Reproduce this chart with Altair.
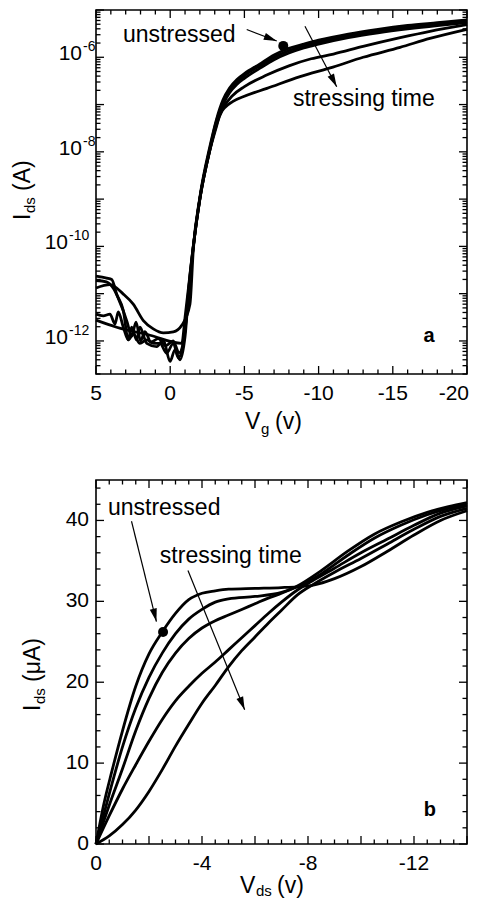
import altair as alt
import pandas as pd

FONT = "Liberation Sans"
INK = "black"

# ---------------- panel a : transfer curves, Ids (A) vs Vg (V) ----------------
a_vg_1 = [5, 4.06, 3.16, 2.49, 1.81, 1.14, 0.46, -0.21, -0.78, -1.33, -1.56, -2.01, -2.68, -3.13, -3.56,
          -4.0, -4.5, -5.0, -6.0, -7.0, -8.0, -9.0, -10.0, -12.0, -14.0, -16.0, -18.0, -20.0]
a_id_1 = [1.32e-11, 1.55e-11, 9.8e-12, 6.0e-12, 2.7e-12, 1.8e-12, 1.48e-12, 1.55e-12, 2.14e-12, 6.0e-12,
          8.9e-11, 1.15e-9, 1.32e-8, 5.0e-8, 1.26e-7, 2.24e-7, 3.4e-7, 4.5e-7, 7.1e-7, 1.12e-6, 1.55e-6,
          1.9e-6, 2.3e-6, 3.1e-6, 3.9e-6, 4.7e-6, 5.4e-6, 6.2e-6]

a_vg_2 = [5, 3.61, 1.36, -0.78, -1.0, -1.33, -1.56, -2.01, -2.68, -3.13, -3.56, -4.0, -4.5, -5.0, -6.0,
          -7.0, -8.0, -9.0, -10.0, -12.0, -14.0, -16.0, -18.0, -20.0]
a_id_2 = [2.75e-12, 1.95e-12, 1.32e-12, 8.9e-13, 3.16e-12, 2.5e-11, 1.05e-10, 1.1e-9, 1.2e-8, 4.6e-8,
          1.12e-7, 2.0e-7, 3.0e-7, 4.1e-7, 6.5e-7, 1.0e-6, 1.38e-6, 1.74e-6, 2.1e-6, 2.8e-6, 3.55e-6,
          4.3e-6, 5.0e-6, 5.75e-6]

a_vg_3 = [5, 4.28, 3.94, 3.61, 3.16, 2.82, 2.60, 2.26, 2.04, 1.58, 0.91, 0.46, 0.01, -0.32, -0.66, -1.0,
          -1.33, -1.56, -2.01, -2.68, -3.13, -3.56, -4.0, -4.5, -5.0, -6.0, -7.0, -8.0, -9.0, -10.0,
          -12.0, -14.0, -16.0, -18.0, -20.0]
a_id_3 = [2.34e-11, 2.14e-11, 2.0e-11, 9.8e-12, 4.4e-12, 1.05e-12, 1.95e-12, 1.05e-12, 1.95e-12, 8.9e-13,
          7.6e-13, 1.05e-12, 3.7e-13, 6.5e-13, 4.0e-13, 1.23e-12, 2.4e-11, 1.0e-10, 1.05e-9, 1.12e-8,
          4.2e-8, 1.0e-7, 1.78e-7, 2.7e-7, 3.6e-7, 5.75e-7, 8.9e-7, 1.23e-6, 1.58e-6, 1.9e-6, 2.6e-6,
          3.3e-6, 4.0e-6, 4.7e-6, 5.4e-6]

a_vg_4 = [5, 4.51, 4.06, 3.72, 3.50, 3.16, 2.82, 2.49, 2.04, 1.58, 1.14, 0.69, 0.24, -0.21, -0.55, -0.88,
          -1.2, -1.56, -2.01, -2.68, -3.13, -3.56, -4.23, -5.0, -6.5, -8.0, -9.5, -11.0, -13.0, -15.5,
          -17.5, -20.0]
a_id_4 = [3.7e-12, 3.4e-12, 3.7e-12, 2.3e-12, 4.1e-12, 1.95e-12, 1.05e-12, 1.41e-12, 8.9e-13, 1.05e-12,
          8.9e-13, 8.9e-13, 5.5e-13, 8.9e-13, 4.4e-13, 8.9e-13, 6.3e-12, 1.0e-10, 1.07e-9, 1.12e-8,
          3.8e-8, 8.3e-8, 1.58e-7, 2.4e-7, 4.2e-7, 6.6e-7, 9.3e-7, 1.17e-6, 1.7e-6, 2.6e-6, 3.55e-6,
          4.9e-6]

a_vg_5 = [5, 4.3, 3.8, 3.3, 2.9, 2.6, 2.3, 2.0, 1.7, 1.3, 0.8, 0.3, -0.2, -0.6, -0.9, -1.25, -1.56,
          -2.01, -2.68, -3.13, -3.36, -4.23, -5.0, -6.52, -8.75, -10.97, -13.0, -15.49, -17.5, -20.0]
a_id_5 = [1.9e-11, 1.78e-11, 1.26e-11, 5.6e-12, 2.5e-12, 1.26e-12, 2.5e-12, 1.0e-12, 1.58e-12, 9.5e-13,
          1.12e-12, 7.9e-13, 1.0e-12, 5.6e-13, 1.0e-12, 1.26e-11, 1.0e-10, 1.05e-9, 1.1e-8, 3.55e-8,
          6.3e-8, 1.17e-7, 1.5e-7, 2.2e-7, 3.9e-7, 6.2e-7, 1.0e-6, 1.62e-6, 2.5e-6, 3.9e-6]

a_curves = [(a_vg_1, a_id_1), (a_vg_2, a_id_2), (a_vg_3, a_id_3), (a_vg_4, a_id_4), (a_vg_5, a_id_5)]

a_x_domain = [5, -20]
a_y_domain = [2e-13, 1e-5]
a_x_major = [5, 0, -5, -10, -15, -20]
a_x_minor = [v for v in range(4, -20, -1) if v % 5 != 0]
a_y_major = [1e-12, 1e-11, 1e-10, 1e-9, 1e-8, 1e-7, 1e-6, 1e-5]
a_y_minor = [k * 10.0 ** n for n in range(-13, -5) for k in range(2, 10)]
a_x_label_vals = [5, 0, -5, -10, -15]
a_x_labels = ["5", "0", "-5", "-10", "-15"]
a_x_last_val = -20
a_x_last_label = "-20"
a_y_label_vals_1 = [1e-6, 1e-8]
a_y_label_exp_1 = ["-6", "-8"]
a_y_label_vals_2 = [1e-10, 1e-12]
a_y_label_exp_2 = ["-10", "-12"]

# annotations (data coordinates)
a_unstressed_xy = (3.18, 2.07e-6)
a_stress_xy = (-8.27, 9.3e-8)
a_arrow1 = (-5.155, 3.87e-6, -7.18, 2.21e-6)
a_arrow2 = (-9.08, 4.53e-6, -11.22, 2.39e-7)
a_dot = (-7.62, 1.74e-6)
a_tag = (-17.44, 9.7e-13)

# ---------------- panel b : output curves, Ids (uA) vs Vds (V) ----------------
b_vd_1 = [0, -0.3, -0.6, -1.0, -1.5, -2.0, -2.5, -3.0, -3.5, -4.0, -4.5, -5.0, -6.0, -7.0, -7.6, -8.2,
          -9.0, -10.0, -11.0, -12.0, -13.0, -14.0]
b_id_1 = [0, 5.0, 9.0, 14.0, 19.5, 23.5, 26.2, 28.5, 30.2, 31.0, 31.3, 31.5, 31.6, 31.7, 31.8, 32.0,
          32.8, 34.3, 36.2, 38.2, 40.0, 41.2]
b_vd_2 = [0, -0.5, -1.0, -1.5, -2.0, -2.5, -3.0, -3.5, -4.0, -4.5, -5.0, -6.0, -7.0, -7.6, -8.5, -9.5,
          -10.5, -11.5, -12.5, -13.3, -14.0]
b_id_2 = [0, 6.2, 12.0, 16.8, 20.6, 23.6, 26.0, 27.8, 29.0, 29.9, 30.3, 30.6, 31.1, 31.8, 33.4, 35.7,
          37.8, 39.4, 40.7, 41.5, 42.0]
b_vd_3 = [0, -0.5, -1.0, -1.5, -2.0, -2.5, -3.0, -3.5, -4.0, -4.5, -5.0, -5.5, -6.0, -6.5, -7.0, -7.6,
          -8.5, -9.5, -10.5, -11.5, -12.5, -13.3, -14.0]
b_id_3 = [0, 4.8, 9.3, 14.0, 18.0, 21.2, 23.6, 25.4, 26.7, 27.6, 28.3, 29.0, 29.7, 30.4, 31.0, 31.9,
          33.8, 36.2, 38.3, 39.8, 41.0, 41.7, 42.2]
b_vd_4 = [0, -0.5, -1.0, -1.5, -2.0, -2.5, -3.0, -3.5, -4.0, -4.5, -5.0, -5.5, -6.0, -6.5, -7.0, -7.6,
          -8.2, -9.0, -10.0, -11.0, -12.0, -13.0, -14.0]
b_id_4 = [0, 3.5, 6.8, 9.8, 12.7, 15.4, 17.7, 19.5, 21.1, 22.5, 24.0, 25.5, 27.0, 28.5, 29.9, 31.4,
          32.6, 34.1, 36.0, 37.7, 39.4, 40.9, 41.8]
b_vd_5 = [0, -0.5, -1.0, -1.5, -2.0, -2.5, -3.0, -3.5, -4.0, -4.5, -5.0, -5.5, -6.0, -6.5, -7.0, -7.6,
          -8.2, -9.0, -10.0, -11.0, -12.0, -13.0, -14.0]
b_id_5 = [0, 1.0, 2.4, 4.2, 6.5, 9.2, 12.1, 14.8, 17.4, 19.6, 21.9, 23.9, 25.6, 27.3, 28.9, 30.8,
          32.1, 33.6, 35.3, 37.1, 38.9, 40.5, 41.5]

b_curves = [(b_vd_1, b_id_1), (b_vd_2, b_id_2), (b_vd_3, b_id_3), (b_vd_4, b_id_4), (b_vd_5, b_id_5)]

b_x_domain = [0, -14]
b_y_domain = [0, 45]
b_x_major = [0, -2, -4, -6, -8, -10, -12, -14]
b_x_minor = [-0.5 * k for k in range(1, 28) if k % 4 != 0]
b_y_major = [0, 10, 20, 30, 40]
b_y_minor = [v for v in range(2, 45, 2) if v % 10 != 0]
b_x_label_vals = [0, -4, -8, -12]
b_x_labels = ["0", "-4", "-8", "-12"]
b_y_label_vals = [0, 10, 20, 30, 40]
b_y_labels = ["0", "10", "20", "30", "40"]

b_unstressed_xy = (-0.45, 40.7)
b_stress_xy = (-2.41, 34.8)
b_arrow1 = (-1.34, 39.9, -2.28, 27.5)
b_arrow2 = (-3.47, 33.8, -5.61, 16.6)
b_dot = (-2.53, 26.2)
b_tag = (-12.6, 3.46)

# ---------------- styling ----------------
W, H = 371, 364
GAP = 106
TICK_FS = 21
TITLE_FS = 23
SUB_FS = 15
ANN_FS = 23
MAJ, MIN = 8, 4.5
ARROW_PATH = "M0,0L0.55,2L-0.55,2Z"
PAD_L, PAD_T = 88, 2
SVG_W, SVG_H = 462, 890


def curves_df(curves):
    rows = []
    for k, (xs, ys) in enumerate(curves):
        for j, (xv, yv) in enumerate(zip(xs, ys)):
            rows.append({"curve": k, "i": j, "x": xv, "y": yv})
    return pd.DataFrame(rows)


def txt(t, x, y, size, angle=0, align="left", baseline="alphabetic", weight="normal"):
    return alt.Chart(pd.DataFrame({"t": [t]})).mark_text(
        font=FONT, fontSize=size, angle=angle, align=align, baseline=baseline,
        fontWeight=weight, color=INK
    ).encode(x=alt.value(x), y=alt.value(y), text="t:N")


def panel(curves, xs, ys, x_major, x_minor, y_major, y_minor, ann, arrow_angles):
    X = lambda f: alt.X(f"{f}:Q", scale=xs, axis=None)
    Y = lambda f: alt.Y(f"{f}:Q", scale=ys, axis=None)
    X2 = lambda f: alt.X2(f"{f}:Q")
    Y2 = lambda f: alt.Y2(f"{f}:Q")
    layers = []
    layers.append(alt.Chart(curves_df(curves)).mark_line(
        color=INK, strokeWidth=2.8, interpolate="monotone", strokeJoin="round"
    ).encode(x=X("x"), y=Y("y"), detail="curve:N", order="i:Q"))
    # inward ticks on all four sides
    for vals, ln in ((x_major, MAJ), (x_minor, MIN)):
        df = pd.DataFrame({"v": vals})
        for yc in (H - ln / 2, ln / 2):
            layers.append(alt.Chart(df).mark_tick(
                orient="vertical", size=ln, thickness=1.3, color=INK, opacity=1
            ).encode(x=X("v"), y=alt.value(yc)))
    for vals, ln in ((y_major, MAJ), (y_minor, MIN)):
        df = pd.DataFrame({"v": vals})
        for xc in (ln / 2, W - ln / 2):
            layers.append(alt.Chart(df).mark_tick(
                orient="horizontal", size=ln, thickness=1.3, color=INK, opacity=1
            ).encode(y=Y("v"), x=alt.value(xc)))
    # annotations
    (ux, uy), (sx, sy), arrows, (dx_, dy_) = ann
    ann_df = pd.DataFrame({"x": [ux, sx], "y": [uy, sy], "t": ["unstressed", "stressing time"]})
    layers.append(alt.Chart(ann_df).mark_text(
        font=FONT, fontSize=ANN_FS, align="left", baseline="alphabetic", color=INK
    ).encode(x=X("x"), y=Y("y"), text="t:N"))
    arr_df = pd.DataFrame({"x": [a[0] for a in arrows], "y": [a[1] for a in arrows],
                           "x2": [a[2] for a in arrows], "y2": [a[3] for a in arrows]})
    layers.append(alt.Chart(arr_df).mark_rule(color=INK, strokeWidth=1.2).encode(
        x=X("x"), y=Y("y"), x2=X2("x2"), y2=Y2("y2")))
    for a, ang in zip(arrows, arrow_angles):
        layers.append(alt.Chart(pd.DataFrame({"x": [a[2]], "y": [a[3]]})).mark_point(
            shape=ARROW_PATH, filled=True, size=169, color=INK, opacity=1, strokeWidth=0
        ).encode(x=X("x"), y=Y("y"), angle=alt.value(ang)))
    layers.append(alt.Chart(pd.DataFrame({"x": [dx_], "y": [dy_]})).mark_circle(
        size=100, color=INK, opacity=1).encode(x=X("x"), y=Y("y")))
    return layers, X, Y


# ---- panel a
a_xs = alt.Scale(domain=a_x_domain, nice=False, zero=False)
a_ys = alt.Scale(type="log", domain=a_y_domain, nice=False)
a_layers, aX, aY = panel(
    a_curves, a_xs, a_ys, a_x_major, a_x_minor, a_y_major, a_y_minor,
    (a_unstressed_xy, a_stress_xy, [a_arrow1, a_arrow2], a_dot), [111, 153])
a_layers.append(alt.Chart(pd.DataFrame({"v": a_x_label_vals, "t": a_x_labels})).mark_text(
    font=FONT, fontSize=TICK_FS, align="center", baseline="alphabetic", color=INK
).encode(x=aX("v"), y=alt.value(H + 26), text="t:N"))
a_layers.append(alt.Chart(pd.DataFrame({"v": [a_x_last_val], "t": [a_x_last_label]})).mark_text(
    font=FONT, fontSize=TICK_FS, align="right", baseline="alphabetic", dx=2, color=INK
).encode(x=aX("v"), y=alt.value(H + 26), text="t:N"))
for vals, exps, base_r in ((a_y_label_vals_1, a_y_label_exp_1, -14), (a_y_label_vals_2, a_y_label_exp_2, -28)):
    df = pd.DataFrame({"v": vals, "e": exps, "b": ["10"] * len(vals)})
    a_layers.append(alt.Chart(df).mark_text(
        font=FONT, fontSize=TICK_FS, align="right", baseline="alphabetic", dy=3, color=INK
    ).encode(y=aY("v"), x=alt.value(base_r), text="b:N"))
    a_layers.append(alt.Chart(df).mark_text(
        font=FONT, fontSize=14, align="left", baseline="alphabetic", dy=-6, color=INK
    ).encode(y=aY("v"), x=alt.value(base_r + 1), text="e:N"))
a_layers.append(alt.Chart(pd.DataFrame({"x": [a_tag[0]], "y": [a_tag[1]], "t": ["a"]})).mark_text(
    font=FONT, fontSize=20, fontWeight="bold", align="center", baseline="alphabetic", color=INK
).encode(x=aX("x"), y=aY("y"), text="t:N"))
# axis titles (with subscripts)
a_layers += [
    txt("V", 149, H + 55, TITLE_FS),
    txt("g", 165, H + 60, SUB_FS),
    txt("(v)", 179, H + 55, TITLE_FS),
    txt("I", -66, 210, TITLE_FS, angle=270),
    txt("ds", -61, 203, SUB_FS, angle=270),
    txt("(A)", -66, 181, TITLE_FS, angle=270),
]
top = alt.layer(*a_layers).properties(width=W, height=H)

# ---- panel b
b_xs = alt.Scale(domain=b_x_domain, nice=False, zero=False)
b_ys = alt.Scale(domain=b_y_domain, nice=False)
b_layers, bX, bY = panel(
    b_curves, b_xs, b_ys, b_x_major, b_x_minor, b_y_major, b_y_minor,
    (b_unstressed_xy, b_stress_xy, [b_arrow1, b_arrow2], b_dot), [166, 158])
b_layers.append(alt.Chart(pd.DataFrame({"v": b_x_label_vals, "t": b_x_labels})).mark_text(
    font=FONT, fontSize=TICK_FS, align="center", baseline="alphabetic", color=INK
).encode(x=bX("v"), y=alt.value(H + 26), text="t:N"))
b_layers.append(alt.Chart(pd.DataFrame({"v": b_y_label_vals, "t": b_y_labels})).mark_text(
    font=FONT, fontSize=TICK_FS, align="right", baseline="middle", color=INK
).encode(y=bY("v"), x=alt.value(-7), text="t:N"))
b_layers.append(alt.Chart(pd.DataFrame({"x": [b_tag[0]], "y": [b_tag[1]], "t": ["b"]})).mark_text(
    font=FONT, fontSize=20, fontWeight="bold", align="center", baseline="alphabetic", color=INK
).encode(x=bX("x"), y=bY("y"), text="t:N"))
b_layers += [
    txt("V", 144, H + 49, TITLE_FS),
    txt("ds", 160, H + 52, SUB_FS),
    txt("(v)", 181, H + 49, TITLE_FS),
    txt("I", -56, 231, TITLE_FS, angle=270),
    txt("ds", -51, 224, SUB_FS, angle=270),
    txt("(\u03bcA)", -56, 202, TITLE_FS, angle=270),
]
bottom = alt.layer(*b_layers).properties(width=W, height=H)

# with autosize "none" the page keeps the layout width but not its height,
# so the paddings below fix the drawing to SVG_W x SVG_H pixels
chart = alt.vconcat(top, bottom, spacing=GAP, bounds="flush").properties(
    autosize=alt.AutoSizeParams(type="none"),
    padding={"left": PAD_L, "top": PAD_T, "right": SVG_W - PAD_L - W,
             "bottom": SVG_H - PAD_T},
).configure_view(stroke=INK, strokeWidth=1.6)

chart.save("out.html", embed_options={"renderer": "svg", "actions": False})
